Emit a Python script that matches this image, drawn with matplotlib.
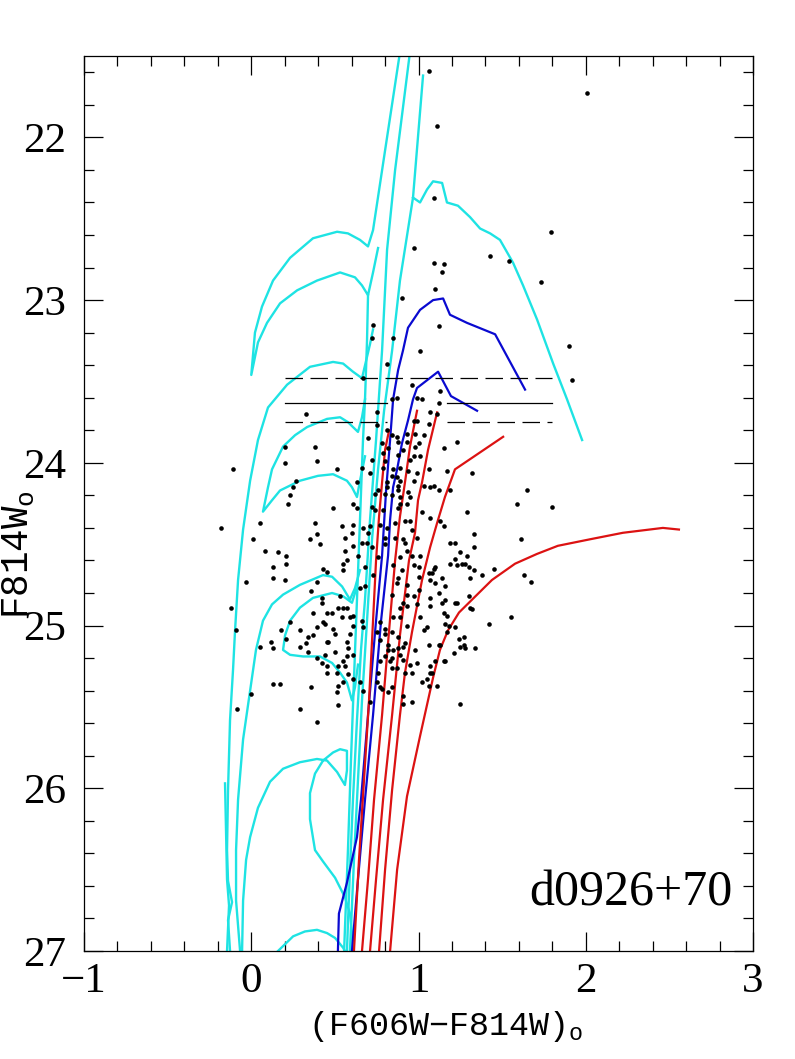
import matplotlib
matplotlib.use("Agg")
import matplotlib.pyplot as plt
from matplotlib.ticker import MultipleLocator

plt.rcParams['font.family'] = ['Liberation Serif', 'DejaVu Serif']
plt.rcParams['mathtext.fontset'] = 'custom'
plt.rcParams['mathtext.rm'] = 'Liberation Mono'

# ---- isochrones: colour (F606W-F814W)o, magnitude F814Wo ----
# cyan (young) tracks
cyan_a_col = [0.893, 0.800, 0.728, 0.698, 0.650, 0.578, 0.513, 0.369, 0.232, 0.130, 0.064, 0.022, 0.0,
              0.040, 0.094, 0.172, 0.274, 0.393, 0.531, 0.620, 0.662, 0.698, 0.728, 0.758]
cyan_a_mag = [21.45, 22.08, 22.57, 22.67, 22.63, 22.59, 22.58, 22.62, 22.74, 22.88, 23.04, 23.20, 23.46,
              23.26, 23.14, 23.02, 22.94, 22.88, 22.83, 22.86, 22.91, 22.97, 22.83, 22.68]
cyan_a_rgb_col = [0.698, 0.692, 0.680, 0.668, 0.650, 0.632, 0.614, 0.596, 0.578, 0.555]
cyan_a_rgb_mag = [22.97, 23.25, 23.61, 23.86, 24.35, 24.84, 25.33, 25.83, 26.38, 27.0]

cyan_b_col = [0.952, 0.860, 0.812, 0.782, 0.746, 0.710, 0.680, 0.656, 0.632, 0.608, 0.590, 0.572]
cyan_b_mag = [21.45, 22.20, 22.69, 23.31, 23.86, 24.35, 24.84, 25.15, 25.58, 26.07, 26.50, 27.0]

cyan_c_col = [1.027, 0.967, 0.889, 0.842, 0.794, 0.758, 0.722, 0.692, 0.662, 0.638, 0.614, 0.590]
cyan_c_mag = [21.62, 22.37, 22.88, 23.31, 23.68, 24.04, 24.47, 24.97, 25.46, 25.95, 26.44, 27.0]
cyan_c_agb_col = [0.967, 1.009, 1.051, 1.087, 1.141, 1.170, 1.236, 1.308, 1.368, 1.428, 1.487, 1.565,
                  1.625, 1.709, 1.805, 1.888, 1.978]
cyan_c_agb_mag = [22.37, 22.40, 22.32, 22.27, 22.28, 22.40, 22.42, 22.49, 22.56, 22.59, 22.63, 22.77,
                  22.91, 23.12, 23.39, 23.61, 23.86]

cyan_d_col = [-0.127, -0.139, -0.115, -0.139, -0.145, -0.139, -0.127, -0.109, -0.097, -0.079, -0.049,
              -0.007, 0.040, 0.100, 0.214, 0.351, 0.489, 0.549, 0.608, 0.662, 0.710, 0.728]
cyan_d_mag = [27.0, 26.81, 26.70, 26.57, 26.38, 26.01, 25.58, 25.27, 25.03, 24.72, 24.41,
              24.11, 23.86, 23.66, 23.52, 23.41, 23.38, 23.39, 23.44, 23.48, 23.27, 23.18]
cyan_d_loop_col = [0.680, 0.662, 0.638, 0.578, 0.531, 0.453, 0.334, 0.262, 0.190, 0.124, 0.100, 0.070,
                   0.124, 0.172, 0.291, 0.399, 0.489, 0.572, 0.602, 0.632, 0.650, 0.680]
cyan_d_loop_mag = [23.61, 23.72, 23.81, 23.75, 23.72, 23.73, 23.78, 23.83, 23.90, 24.04, 24.15, 24.30,
                   24.23, 24.17, 24.11, 24.08, 24.07, 24.11, 24.15, 24.21, 24.11, 23.96]

cyan_e_col = [-0.067, -0.091, -0.091, -0.079, -0.049, -0.007, 0.028, 0.070, 0.124, 0.190, 0.291, 0.429,
              0.483, 0.543, 0.590, 0.620, 0.650]
cyan_e_mag = [27.0, 26.69, 26.38, 26.07, 25.70, 25.40, 25.15, 24.97, 24.87, 24.81, 24.75, 24.69,
              24.70, 24.76, 24.84, 24.77, 24.66]
cyan_e_loop_col = [0.638, 0.620, 0.602, 0.572, 0.531, 0.483, 0.411, 0.310, 0.232, 0.190, 0.202, 0.232,
                   0.291, 0.369, 0.483, 0.549, 0.602, 0.626]
cyan_e_loop_mag = [25.24, 25.38, 25.46, 25.35, 25.29, 25.23, 25.19, 25.19, 25.18, 25.15, 25.06, 24.97,
                   24.89, 24.83, 24.80, 24.82, 24.86, 24.78]

cyan_f_col = [-0.157, -0.151, -0.145, -0.133, -0.145]
cyan_f_mag = [25.97, 26.26, 26.56, 26.72, 27.0]

cyan_g_col = [-0.055, -0.049, -0.031, -0.007, 0.040, 0.112, 0.190, 0.291, 0.393, 0.453, 0.513, 0.560,
              0.572, 0.572, 0.531, 0.489, 0.429, 0.381, 0.351, 0.351, 0.381, 0.429, 0.501, 0.560,
              0.590, 0.602, 0.608]
cyan_g_mag = [27.0, 26.69, 26.44, 26.30, 26.12, 25.96, 25.88, 25.84, 25.82, 25.83, 25.90, 25.98,
              25.89, 25.77, 25.76, 25.78, 25.83, 25.91, 26.03, 26.19, 26.38, 26.45, 26.55, 26.67,
              26.77, 26.89, 27.0]

cyan_h_col = [0.160, 0.250, 0.321, 0.393, 0.453, 0.501, 0.549, 0.560]
cyan_h_mag = [27.0, 26.91, 26.88, 26.87, 26.89, 26.92, 26.98, 27.0]

# blue (intermediate age) tracks
blue_a_col = [1.637, 1.458, 1.290, 1.188, 1.147, 1.087, 1.009, 0.937, 0.907, 0.878, 0.848, 0.830,
              0.806, 0.782, 0.746, 0.698, 0.656, 0.632, 0.572, 0.524, 0.518]
blue_a_mag = [23.55, 23.21, 23.14, 23.09, 22.99, 23.00, 23.06, 23.17, 23.31, 23.43, 23.61, 23.86,
              24.17, 24.57, 24.97, 25.55, 26.07, 26.30, 26.58, 26.77, 27.0]
blue_b_col = [1.350, 1.194, 1.117, 0.991, 0.967, 0.937, 0.901, 0.872, 0.848, 0.830, 0.818, 0.776,
              0.728, 0.680, 0.638, 0.602]
blue_b_mag = [23.68, 23.59, 23.44, 23.54, 23.61, 23.74, 23.88, 24.04, 24.15, 24.35, 24.57, 24.97,
              25.55, 26.07, 26.56, 27.0]

# red (old) tracks
red_a_col = [0.824, 0.800, 0.782, 0.764, 0.746, 0.728, 0.704, 0.674, 0.644, 0.614]
red_a_mag = [23.80, 23.92, 24.12, 24.33, 24.60, 24.97, 25.46, 25.95, 26.44, 27.0]
red_b_col = [0.991, 0.949, 0.919, 0.889, 0.860, 0.824, 0.782, 0.734, 0.698, 0.662]
red_b_mag = [23.68, 23.90, 24.12, 24.33, 24.60, 25.03, 25.55, 26.07, 26.56, 27.0]
red_c_col = [1.111, 1.057, 1.021, 0.997, 0.979, 0.943, 0.889, 0.842, 0.788, 0.746, 0.710]
red_c_mag = [23.69, 23.92, 24.12, 24.23, 24.43, 24.60, 25.06, 25.55, 26.07, 26.56, 27.0]
red_d_col = [1.506, 1.218, 1.158, 1.111, 1.069, 1.021, 0.961, 0.919, 0.889, 0.842, 0.800, 0.764]
red_d_mag = [23.84, 24.04, 24.21, 24.37, 24.52, 24.72, 25.04, 25.29, 25.55, 26.01, 26.50, 27.0]
red_e_col = [2.557, 2.461, 2.222, 2.025, 1.833, 1.708, 1.577, 1.439, 1.242, 1.176, 1.128, 1.087,
             1.009, 0.931, 0.872, 0.830]
red_e_mag = [24.41, 24.40, 24.43, 24.47, 24.51, 24.56, 24.62, 24.72, 24.92, 25.03, 25.15, 25.32,
             25.68, 26.05, 26.50, 27.0]

# TRGB level and its error band
band_col_left = [0.2, 0.81]
band_col_right = [1.17, 1.8]
trgb_mag = 23.63
trgb_lo = 23.48
trgb_hi = 23.75

# photometry
star_col = [
    1.06, 2.01, 1.11, 1.09, 1.79, 0.97, 1.43, 1.54, 1.09, 1.15, 1.14, 1.73, 1.10, 0.90, 1.12, 1.90,
    0.73, 0.72, 0.85, 1.01, 0.81, 1.92, 0.96, 0.67, 0.84, 0.87, 0.99, 1.02, 1.13, 1.12, 1.07, 1.11,
    1.06, 0.97, 0.99, 0.81, 0.84, 0.87, 1.03, 0.93, 0.98, 0.33, 0.75, 0.75, 0.70, 0.78,
    0.88, 1.23, 1.15, 0.93, 0.98, 1.00, 0.82, 0.91, 0.79, 0.72, 0.80, 0.88, 0.97, 0.95, 1.01, 0.51,
    0.66, 0.79, 0.85, 0.89, 0.94, 0.99, 1.06, 1.17, 1.32, 0.71, 0.84, 0.87, 0.89, 0.97, 0.81, 0.88,
    1.03, 1.07, 1.09, 1.12, 1.19, 0.63, 0.76, 0.81, 0.88, 0.94, 0.84, 0.89, 0.95, 0.80, 0.74, 0.89,
    0.93, 0.88, 0.49, 0.61, 0.63, 0.72, 0.74, 0.79, 1.02, 1.07, 1.13, 1.15, 1.29, 0.54, 0.61, 0.67,
    0.71, 0.77, 0.86, 0.92, 0.95, 0.96, 0.81, 0.56, 0.60, 0.70, 0.66, 0.69, 0.61, 0.80, 0.91, 0.92,
    0.86, 0.99, 0.80, 0.72, 0.93, 0.96, 1.01, 1.19, 1.22, 1.33, 1.33, 1.25, 1.29, 0.41, 0.64, 0.56,
    0.76,
    1.65, 1.59, 1.80, 1.61, 1.22, 1.19, 1.26, 1.23, 1.30, 1.33, 1.45, 1.09, 1.08, 1.14, 1.31, 1.63,
    1.67, 1.16, 1.12, 1.30, 1.16, 1.14, 1.22, 1.31, 1.15, 1.07, 1.55, 1.42, 1.16, 1.17, 1.22, 1.27,
    1.24, 1.25, 1.28, 1.34, 1.12, 1.21, 1.10, 1.15, 1.07, 1.08, 1.25,
    0.57, 0.55, 0.43, 0.45, 0.68, 0.73, 0.85, 0.89, 0.90, 0.97, 1.00, 1.00, 0.88, 0.93, 0.87, 1.06,
    1.07, 1.10, 1.10, 1.28, 1.38, 1.23, 1.32, 0.65, 0.68, 0.84, 0.93, 0.97, 1.00, 1.07, 0.91, 0.93,
    0.89, 0.99, 1.17, 0.42, 0.42, 0.53, 0.52, 0.57, 0.59, 0.54, 0.48, 0.45, 0.44, 0.49, 0.50, 0.59,
    0.61, 0.61, 0.66, 0.67, 0.77, 0.80, 0.89, 0.85, 0.93, 1.01, 1.05, 1.03, 1.18, 1.27, 0.46, 0.57,
    0.58, 0.50, 0.61, 0.57, 0.55, 0.56, 0.42, 0.45, 0.45, 0.75, 0.80, 0.84, 0.88, 0.92, 0.91, 0.88,
    0.85, 0.82, 0.80, 0.84, 0.77, 0.83, 0.89, 0.91, 0.98, 0.99, 1.06, 1.13, 1.16, 1.07, 1.05, 1.02,
    0.96, 0.95, 0.87, 0.92, 0.84, 0.76, 0.75, 0.67, 0.52, 0.51, 0.52, 0.71, 0.84, 0.82, 0.77, 0.91,
    0.96, 1.11, 0.61, 0.58,
    0.20, 0.38, 0.39, 0.20, -0.11, 0.27, 0.25, 0.23, 0.22, 0.05, -0.18, 0.38, 0.39, 0.35, 0.01, 0.08,
    0.16, 0.21, 0.21, 0.13, 0.55, -0.03, 0.13, 0.20, 0.39, 0.36, 0.55, -0.12, 0.23, 0.18, 0.37, 0.43,
    0.39, 0.05, 0.12, 0.13, 0.29, 0.34, 0.37, -0.09, 0.21, 0.29, 0.33, -0.085, 0.00, 0.13, 0.17, 0.29,
    0.36, 0.39, 0.39, 0.44,
    0.34, 0.45, 0.52, 0.51, 0.55, 0.65, 0.78, 0.91, 1.06, 0.82, 0.77,
]
star_mag = [
    21.59, 21.73, 21.93, 22.37, 22.58, 22.68, 22.73, 22.76, 22.77, 22.78, 22.83, 22.89, 22.93, 22.99,
    23.16, 23.28, 23.15, 23.23, 23.23, 23.31, 23.39, 23.49, 23.52, 23.48, 23.61, 23.60, 23.60, 23.61,
    23.56, 23.63, 23.69, 23.70, 23.76, 23.74, 23.74, 23.80, 23.83, 23.84, 23.83, 23.82, 23.82, 23.70,
    23.69, 23.77, 23.85, 23.88,
    23.87, 23.87, 23.91, 23.87, 23.90, 23.88, 23.91, 23.92, 23.94, 23.98, 23.99, 23.95, 23.96, 23.98,
    23.96, 24.04, 24.03, 24.03, 24.04, 24.03, 24.05, 24.06, 24.04, 24.05, 24.06, 24.06, 24.08, 24.09,
    24.11, 24.11, 24.12, 24.14, 24.14, 24.15, 24.14, 24.17, 24.17, 24.12, 24.17, 24.15, 24.17, 24.18,
    24.20, 24.21, 24.21, 24.19, 24.19, 24.25, 24.25, 24.28, 24.28, 24.25, 24.28, 24.27, 24.29, 24.29,
    24.30, 24.34, 24.36, 24.39, 24.30, 24.39, 24.38, 24.40, 24.39, 24.38, 24.37, 24.36, 24.36, 24.41,
    24.40, 24.46, 24.43, 24.43, 24.49, 24.49, 24.51, 24.46, 24.47, 24.49, 24.46, 24.46, 24.50, 24.52,
    24.54, 24.57, 24.57, 24.49, 24.49, 24.44, 24.52, 24.55, 24.57, 24.50, 24.57, 24.54, 24.58,
    24.17, 24.25, 24.27, 24.47, 24.59, 24.62, 24.62, 24.63, 24.64, 24.66, 24.65, 24.65, 24.68, 24.71,
    24.71, 24.69, 24.73, 24.76, 24.80, 24.82, 24.84, 24.86, 24.86, 24.89, 24.92, 24.88, 24.95, 24.99,
    24.99, 25.04, 25.01, 25.07, 25.08, 25.13, 25.14, 25.14, 25.12, 25.17, 25.22, 25.22, 25.25, 25.29,
    25.48,
    24.60, 24.66, 24.65, 24.67, 24.64, 24.69, 24.63, 24.58, 24.66, 24.63, 24.64, 24.70, 24.71, 24.75,
    24.74, 24.68, 24.72, 24.74, 24.64, 24.62, 24.69, 24.86, 24.90, 24.77, 24.76, 24.81, 24.81, 24.82,
    24.78, 24.83, 24.86, 24.88, 24.89, 24.87, 24.94, 24.83, 24.86, 24.82, 24.89, 24.89, 24.95, 24.95,
    24.92, 24.92, 24.99, 25.02, 25.05, 25.05, 25.00, 24.94, 24.97, 25.01, 24.98, 25.02, 24.95, 24.95,
    25.00, 24.95, 25.01, 25.03, 25.00, 25.12, 25.10, 25.10, 25.14, 25.16, 25.18, 25.19, 25.22, 25.25,
    25.23, 25.25, 25.29, 25.04, 25.05, 25.04, 25.07, 25.11, 25.13, 25.14, 25.15, 25.15, 25.19, 25.20,
    25.22, 25.22, 25.18, 25.21, 25.15, 25.23, 25.12, 25.12, 25.22, 25.29, 25.33, 25.35, 25.29, 25.24,
    25.26, 25.29, 25.26, 25.29, 25.35, 25.40, 25.37, 25.41, 25.49, 25.47, 25.38, 25.41, 25.38, 25.43,
    25.47, 25.37, 25.33, 25.30,
    23.90, 23.90, 23.99, 24.00, 24.04, 24.11, 24.15, 24.20, 24.25, 24.37, 24.40, 24.37, 24.44, 24.47,
    24.47, 24.54, 24.55, 24.57, 24.62, 24.64, 24.62, 24.73, 24.71, 24.72, 24.73, 24.79, 24.89, 24.89,
    24.98, 25.03, 24.92, 24.98, 25.01, 25.13, 25.10, 25.14, 25.13, 25.07, 25.06, 25.03, 25.08, 25.03,
    25.11, 25.51, 25.42, 25.36, 25.36, 25.51, 25.38, 25.59, 25.20, 25.18,
    25.16, 25.10, 25.25, 25.29, 25.35, 25.35, 25.39, 25.48, 25.37, 25.12, 25.09,
]

CYAN = '#1ee3e3'
BLUE = '#0a0ad0'
RED = '#dc1212'

fig = plt.figure(figsize=(7.95, 10.59), dpi=100)
ax = fig.add_axes([0.1057, 0.1020, 0.8415, 0.8451])

cyan_tracks = [
    (cyan_a_col, cyan_a_mag), (cyan_a_rgb_col, cyan_a_rgb_mag), (cyan_b_col, cyan_b_mag),
    (cyan_c_col, cyan_c_mag), (cyan_c_agb_col, cyan_c_agb_mag), (cyan_d_col, cyan_d_mag),
    (cyan_d_loop_col, cyan_d_loop_mag), (cyan_e_col, cyan_e_mag), (cyan_e_loop_col, cyan_e_loop_mag),
    (cyan_f_col, cyan_f_mag), (cyan_g_col, cyan_g_mag), (cyan_h_col, cyan_h_mag),
]
for c, m in cyan_tracks:
    ax.plot(c, m, color=CYAN, lw=1.7, solid_joinstyle='round')

for c, m in [(blue_a_col, blue_a_mag), (blue_b_col, blue_b_mag)]:
    ax.plot(c, m, color=BLUE, lw=1.6)

for c, m in [(red_a_col, red_a_mag), (red_b_col, red_b_mag), (red_c_col, red_c_mag),
             (red_d_col, red_d_mag), (red_e_col, red_e_mag)]:
    ax.plot(c, m, color=RED, lw=1.6)

# tip of the RGB with its uncertainty
for seg in (band_col_left, band_col_right):
    ax.plot(seg, [trgb_mag, trgb_mag], color='k', lw=0.9)
    ax.plot(seg, [trgb_hi, trgb_hi], color='k', lw=0.9, ls=(0, (14, 6)))
ax.plot([band_col_left[0], band_col_right[1]], [trgb_lo, trgb_lo], color='k', lw=0.9, ls=(0, (14, 6)))

ax.plot(star_col, star_mag, 'o', color='k', ms=3.3, mec='none', zorder=5)

ax.text(2.88, 26.72, 'd0926+70', ha='right', va='baseline', fontsize=36)

ax.set_xlim(-1, 3)
ax.set_ylim(27, 21.5)
ax.xaxis.set_major_locator(MultipleLocator(1))
ax.xaxis.set_minor_locator(MultipleLocator(0.2))
ax.yaxis.set_major_locator(MultipleLocator(1))
ax.yaxis.set_minor_locator(MultipleLocator(0.2))
ax.tick_params(which='both', direction='in', top=True, right=True, width=0.9, labelsize=31)
ax.tick_params(which='major', length=14)
ax.tick_params(which='minor', length=7)
ax.tick_params(axis='x', pad=8)
ax.tick_params(axis='y', pad=13)
for sp in ax.spines.values():
    sp.set_linewidth(0.9)

ax.set_xlabel('(F606W\u2212F814W)$_{\\rm o}$', fontsize=24, family='Liberation Mono')
ax.xaxis.label.set_verticalalignment('center')
ax.xaxis.set_label_coords(0.541, -0.084)
ax.set_ylabel('F814W$_{\\rm o}$', fontsize=27, family='Liberation Mono')
ax.yaxis.label.set_verticalalignment('center')
ax.yaxis.set_label_coords(-0.098, 0.4425)

fig.savefig('out.png', dpi=100)
